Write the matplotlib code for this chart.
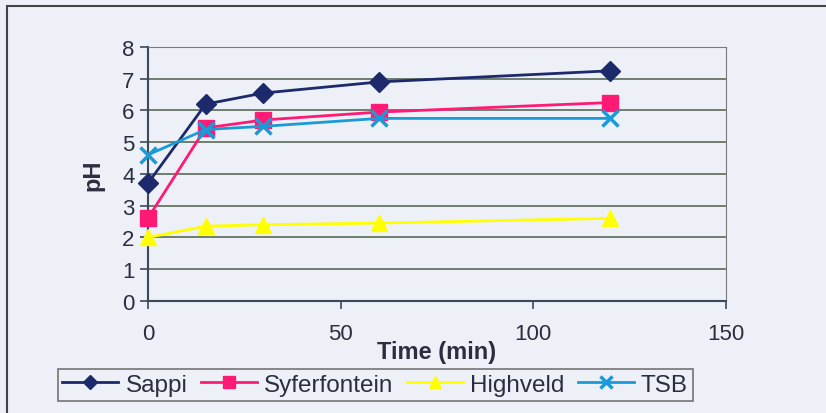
import numpy as np
import matplotlib.pyplot as plt
from matplotlib.patches import Rectangle

plt.rcParams['font.family'] = ['Liberation Sans', 'DejaVu Sans']

# data
time_min = [0, 15, 30, 60, 120]
sappi = [3.7, 6.2, 6.55, 6.9, 7.25]
syferfontein = [2.6, 5.45, 5.7, 5.95, 6.25]
highveld = [2.0, 2.35, 2.4, 2.45, 2.6]
tsb = [4.6, 5.4, 5.5, 5.75, 5.75]

bg = '#eef0f8'
txt = '#2a2e3e'
fig = plt.figure(figsize=(8.26, 4.14), dpi=100, facecolor=bg)
ax = fig.add_axes([0.179, 0.271, 0.700, 0.613], facecolor=bg)

ax.plot(time_min, sappi, color='#1c2a6b', lw=2, marker='D', ms=10, label='Sappi', clip_on=False, zorder=5)
ax.plot(time_min, syferfontein, color='#ff1a75', lw=2, marker='s', ms=11, label='Syferfontein', clip_on=False, zorder=4)
ax.plot(time_min, highveld, color='#ffff00', lw=2, marker='^', ms=12, label='Highveld', clip_on=False, zorder=3)
ax.plot(time_min, tsb, color='#1a9ad6', lw=2, marker='x', ms=11, mew=2.5, label='TSB', clip_on=False, zorder=6)

ax.set_xlim(0, 150)
ax.set_ylim(0, 8)
ax.set_xticks([0, 50, 100, 150])
ax.set_yticks(range(0, 9))
ax.grid(axis='y', color='#5a6a5a', lw=1.2)
ax.set_axisbelow(True)
for s in ax.spines.values():
    s.set_color('#7a7a7a')
ax.spines['left'].set_color('#3a4a5a')
ax.spines['left'].set_linewidth(1.5)
ax.spines['bottom'].set_color('#3a4a5a')
ax.spines['bottom'].set_linewidth(1.5)
ax.tick_params(axis='both', labelsize=16, color='#3a4a5a', width=1.2, length=6,
               labelcolor=txt, direction='out')
ax.tick_params(axis='x', pad=10)
ax.set_xlabel('Time (min)', fontsize=17, fontweight='bold', color=txt, labelpad=-3)
ax.set_ylabel('pH', fontsize=17, fontweight='bold', color=txt, labelpad=13)

leg = fig.legend(loc='lower left', bbox_to_anchor=(0.055, 0.0), ncol=4, fontsize=17.5,
                 frameon=True, fancybox=False, edgecolor='#555555', facecolor=bg,
                 handlelength=2.3, columnspacing=0.55, handletextpad=0.3, borderpad=0.2,
                 labelcolor=txt, markerscale=0.75)
leg.get_frame().set_linewidth(1.2)

fig.patches.append(Rectangle((0.009, -0.1), 1.2, 1.083, transform=fig.transFigure,
                             fill=False, edgecolor='#444444', lw=1.5))

fig.savefig('out.png', dpi=100, facecolor=bg)
